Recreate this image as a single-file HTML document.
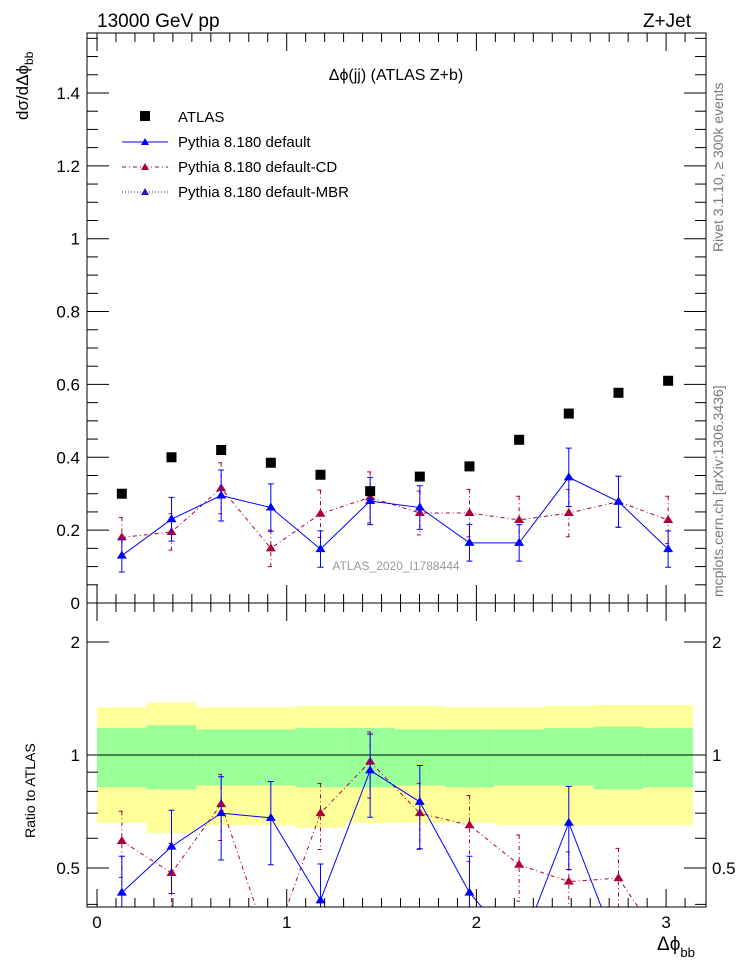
<!DOCTYPE html>
<html><head><meta charset="utf-8"><style>
body{margin:0;background:#fff;}
svg{display:block;font-family:"Liberation Sans",sans-serif;}
</style></head><body>
<svg id="c" width="746" height="972" xmlns="http://www.w3.org/2000/svg">
<g id="bands"></g>
<g id="main"></g>
<g id="ratio"></g>
<g id="axes"></g>
<text x="97" y="27" font-size="19">13000 GeV pp</text>
<text x="691" y="27" font-size="19" text-anchor="end">Z+Jet</text>
<text x="396" y="80" font-size="16" text-anchor="middle">Δϕ(jj) (ATLAS Z+b)</text>
<text x="396" y="570" font-size="12" fill="#999" text-anchor="middle">ATLAS_2020_I1788444</text>
<text transform="translate(723,252) rotate(-90)" font-size="14" fill="#777" text-anchor="start">Rivet 3.1.10, ≥ 300k events</text>
<text transform="translate(723,597) rotate(-90)" font-size="14" fill="#777">mcplots.cern.ch [arXiv:1306.3436]</text>
<text transform="translate(28,120) rotate(-90)" font-size="17">dσ/dΔϕ<tspan font-size="12" dy="5">bb</tspan></text>
<text transform="translate(35,838) rotate(-90)" font-size="14">Ratio to ATLAS</text>
<text x="657" y="950" font-size="19">Δϕ<tspan font-size="13" dy="7">bb</tspan></text>
<g>
<rect x="140" y="111" width="10" height="10" fill="#000"/>
<text x="178" y="122" font-size="15">ATLAS</text>
<line x1="122" y1="142" x2="168" y2="142" stroke="#00f"/>
<path d="M145,138 l4,7 h-8z" fill="#00f"/>
<text x="178" y="147" font-size="15">Pythia 8.180 default</text>
<line x1="122" y1="167" x2="168" y2="167" stroke="#b0003a" stroke-dasharray="4,3,1,3"/>
<path d="M145,163 l4,7 h-8z" fill="#b0003a"/>
<text x="178" y="172" font-size="15">Pythia 8.180 default-CD</text>
<line x1="122" y1="192" x2="168" y2="192" stroke="#3010b0" stroke-dasharray="1,2"/>
<path d="M145,188 l4,7 h-8z" fill="#3010b0"/>
<text x="178" y="197" font-size="15">Pythia 8.180 default-MBR</text>
</g>
</svg>
<script>
const nBins = 12;
const atlas = [0.30,0.40,0.42,0.385,0.352,0.307,0.347,0.375,0.448,0.52,0.577,0.61];
const pyDef = [0.13,0.23,0.295,0.262,0.148,0.28,0.262,0.165,0.165,0.345,0.278,0.148];
const pyDefErr = [0.045,0.06,0.07,0.065,0.05,0.065,0.06,0.05,0.05,0.08,0.07,0.05];
const pyCD = [0.18,0.195,0.315,0.15,0.245,0.29,0.247,0.247,0.228,0.247,0.278,0.228];
const pyCDErr = [0.055,0.05,0.07,0.05,0.065,0.07,0.06,0.065,0.065,0.065,0.07,0.065];
const ratioDef = [0.43,0.57,0.70,0.68,0.41,0.91,0.75,0.43,0.30,0.66,0.30,0.30];
const ratioCD = [0.59,0.485,0.74,0.30,0.70,0.96,0.70,0.65,0.51,0.46,0.47,0.30];
const yellowHi = [1.34,1.38,1.34,1.34,1.35,1.35,1.35,1.34,1.34,1.35,1.36,1.36];
const yellowLo = [0.66,0.62,0.65,0.65,0.64,0.66,0.66,0.66,0.65,0.65,0.65,0.65];
const greenHi = [1.18,1.20,1.17,1.17,1.18,1.18,1.17,1.17,1.17,1.18,1.19,1.18];
const greenLo = [0.82,0.81,0.83,0.83,0.82,0.82,0.83,0.82,0.83,0.83,0.81,0.82];
const xTicks = [0,1,2,3];
const yTicks = [0,0.2,0.4,0.6,0.8,1,1.2,1.4];
const rTicks = [0.5,1,2];

const NS="http://www.w3.org/2000/svg";
const L=87,R=706,T=33,M=603,B=907;
const X=v=>97+v*189.7;
const Y=v=>M-v*364.3;
const RY=r=>755-113*Math.log2(r);
const bw=Math.PI/nBins;
const cx=i=>X((i+0.5)*bw);
function el(p,t,a){const e=document.createElementNS(NS,t);for(const k in a)e.setAttribute(k,a[k]);p.appendChild(e);return e;}
const bands=document.getElementById('bands'),main=document.getElementById('main'),ratio=document.getElementById('ratio'),axes=document.getElementById('axes');

for(let i=0;i<nBins;i++){
 const x0=X(i*bw),x1=X((i+1)*bw);
 let e=el(bands,'rect',{x:x0,y:RY(yellowHi[i]),width:x1-x0,height:RY(yellowLo[i])-RY(yellowHi[i]),fill:'#ffff99'});
 
 
 e=el(bands,'rect',{x:x0,y:RY(greenHi[i]),width:x1-x0,height:RY(greenLo[i])-RY(greenHi[i]),fill:'#99ff99'});
 
 
}
let ref=el(ratio,'line',{x1:L,x2:R,y1:RY(1),y2:RY(1),stroke:'#000'});



function tri(g,x,y,c,name){const e=el(g,'path',{d:`M${x},${y-5} l5,8 h-10z`,fill:c});
 
 }
function series(g,yf,vals,errs,c,dash,name){
 const pts=vals.map((v,i)=>cx(i)+','+yf(v)).join(' ');
 const pl=el(g,'polyline',{points:pts,fill:'none',stroke:c,'stroke-width':1,'stroke-dasharray':dash});
 
 
 vals.forEach((v,i)=>{
  if(errs){const e=el(g,'path',{d:`M${cx(i)},${yf(v+errs[i])}V${yf(v-errs[i])}M${cx(i)-3},${yf(v+errs[i])}h6M${cx(i)-3},${yf(v-errs[i])}h6`,stroke:c,'stroke-dasharray':dash,fill:'none'});
   
   }
  tri(g,cx(i),yf(v),c,name+'-point');
 });
}
const defs=el(document.getElementById('c'),'defs',{});
const cp=el(defs,'clipPath',{id:'rc'});el(cp,'rect',{x:L,y:M,width:R-L,height:B-M});
ratio.setAttribute('clip-path','url(#rc)');

series(main,Y,pyCD,pyCDErr,'#b0003a','4,3,1,3','cd-main');
series(main,Y,pyDef,pyDefErr,'#0000ff','','default-main');
atlas.forEach((v,i)=>{const e=el(main,'rect',{x:cx(i)-5,y:Y(v)-5,width:10,height:10,fill:'#000'});
 
 });
series(ratio,RY,ratioCD,ratioCD.map(v=>v*0.2),'#b0003a','4,3,1,3','cd-ratio');
series(ratio,RY,ratioDef,ratioDef.map(v=>v*0.25),'#0000ff','','default-ratio');

[[T,M],[M,B]].forEach(([a,b])=>el(axes,'rect',{x:L,y:a,width:R-L,height:b-a,fill:'none',stroke:'#000'}));
for(let v=0;v<=3.2;v+=0.1){const maj=Math.abs(v-Math.round(v))<1e-6,x=X(v);if(x>R)break;
 const h=maj?18:9;
 [M,B].forEach(yb=>el(axes,'line',{x1:x,x2:x,y1:yb,y2:yb-h,stroke:'#000'}));
 [T,M].forEach(yt=>el(axes,'line',{x1:x,x2:x,y1:yt,y2:yt+h,stroke:'#000'}));}
xTicks.forEach(v=>{const t=el(axes,'text',{x:X(v),y:928,'font-size':17,'text-anchor':'middle'});t.textContent=v;
 
 });
for(let v=0;v<=1.56;v+=0.05){const y=Y(v),maj=Math.abs(v/0.2-Math.round(v/0.2))<1e-6,h=maj?22:11;
 el(axes,'line',{x1:L,x2:L+h,y1:y,y2:y,stroke:'#000'});el(axes,'line',{x1:R,x2:R-h,y1:y,y2:y,stroke:'#000'});}
yTicks.forEach(v=>{const t=el(axes,'text',{x:80,y:Y(v)+6,'font-size':17,'text-anchor':'end'});t.textContent=(v===0||v===1)?v:v.toFixed(1);
 
 });
[0.4,0.5,0.6,0.7,0.8,0.9,1,2].forEach(r=>{const y=RY(r),maj=(r===0.5||r===1||r===2),h=maj?22:11;
 el(axes,'line',{x1:L,x2:L+h,y1:y,y2:y,stroke:'#000'});el(axes,'line',{x1:R,x2:R-h,y1:y,y2:y,stroke:'#000'});});
rTicks.forEach(r=>{[[80,'end'],[712,'start']].forEach(([x,a])=>{const t=el(axes,'text',{x:x,y:RY(r)+6,'font-size':17,'text-anchor':a});t.textContent=r;
 
 });});
</script>
</body></html>
